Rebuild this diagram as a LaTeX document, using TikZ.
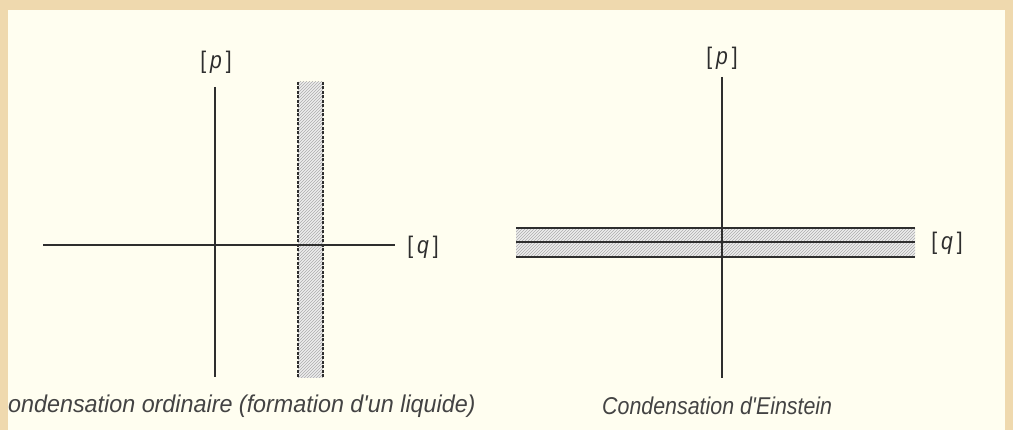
\documentclass[tikz,border=0pt]{standalone}
\usepackage{fontspec}
\newfontfamily\capfont[FakeStretch=0.88]{Liberation Sans}
\newfontfamily\capwidefont[FakeStretch=0.96]{Liberation Sans}
\usetikzlibrary{patterns}
\definecolor{paper}{HTML}{FFFEF0}
\definecolor{frame}{HTML}{EFD9AE}
\definecolor{ink}{HTML}{2E2E2E}
\begin{document}
\begin{tikzpicture}[x=1pt,y=-1pt,
  axis/.style={draw=ink,line width=1.1pt},
  bandedge/.style={draw=ink,line width=2pt},
  dashedge/.style={draw=ink,line width=1.3pt,dash pattern=on 3pt off 1.5pt},
  hatch/.style={pattern=north east lines,pattern color=gray!65},
  lbl/.style={font=\capfont\fontsize{24}{26}\selectfont,text=ink,inner sep=0pt},
  captext/.style={font=\capfont\fontsize{24.3}{27}\selectfont\itshape,text=ink!90,inner sep=0pt,anchor=west},
  captextwide/.style={captext,font=\capwidefont\fontsize{24.3}{27}\selectfont\itshape}]
\useasboundingbox (0,0) rectangle (1013,430);
\fill[frame] (0,0) rectangle (1013,430);
\fill[paper] (8,10) rectangle (1005,430);

% ---------- left diagram ----------
\coordinate (Lt) at (215,87);
\coordinate (Lb) at (215,377);
\coordinate (Ll) at (43,245);
\coordinate (Lr) at (395,245);
\coordinate (S1t) at (298,82);
\coordinate (S1b) at (298,378);
\coordinate (S2t) at (323,82);
\coordinate (S2b) at (323,378);
\fill[gray!14] (S1t) rectangle (S2b);
\path[hatch] (S1t) rectangle (S2b);
\draw[dashedge] (S1t) -- (S1b);
\draw[dashedge] (S2t) -- (S2b);
\draw[axis] (Lt) -- (Lb);
\draw[axis] (Ll) -- (Lr);
\node[lbl] (Lp) at (216,62) {[\,\textit{p}\,]};
\node[lbl] (Lq) at (423,247) {[\,\textit{q}\,]};
\node[captextwide] (Lcap) at (8,406) {ondensation ordinaire (formation d'un liquide)};

% ---------- right diagram ----------
\coordinate (Bt1) at (516,228);
\coordinate (Bt2) at (915,228);
\coordinate (Bm1) at (516,242);
\coordinate (Bm2) at (915,242);
\coordinate (Bb1) at (516,257);
\coordinate (Bb2) at (915,257);
\fill[gray!14] (Bt1) rectangle (Bb2);
\path[hatch] (Bt1) rectangle (Bb2);
\draw[bandedge] (Bt1) -- (Bt2);
\draw[bandedge] (Bb1) -- (Bb2);
\draw[axis] (Bm1) -- (Bm2);
\coordinate (Rt) at (722,77);
\coordinate (Rb) at (722,378);
\draw[axis] (Rt) -- (Rb);
\node[lbl] (Rp) at (722,58) {[\,\textit{p}\,]};
\node[lbl] (Rq) at (947,243) {[\,\textit{q}\,]};
\node[captext] (Rcap) at (602,406) {Condensation d'Einstein};
\end{tikzpicture}
\end{document}
